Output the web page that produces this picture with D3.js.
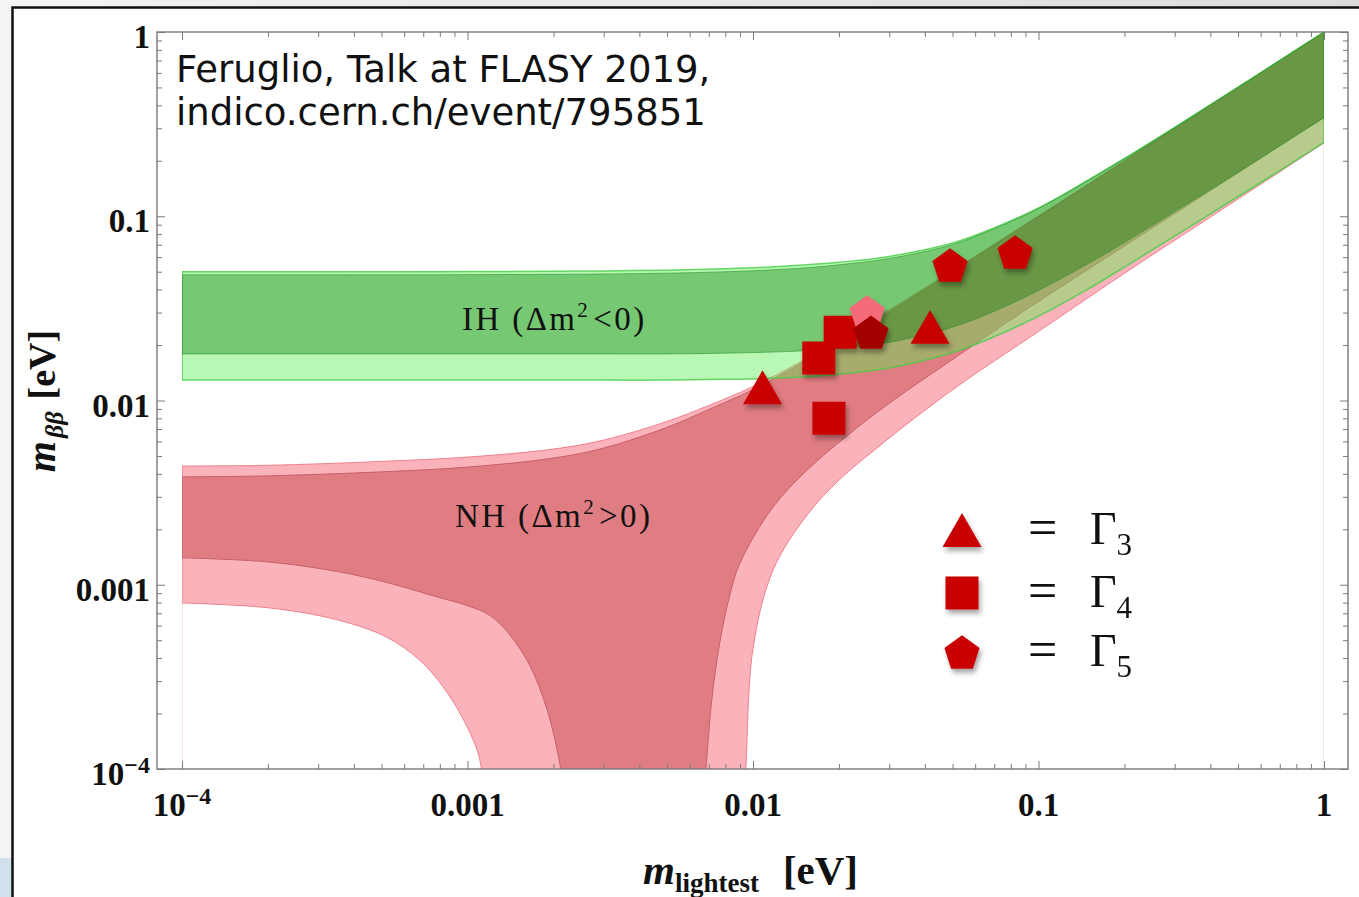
<!DOCTYPE html>
<html lang="en">
<head>
<meta charset="UTF-8">
<title>m_bb vs m_lightest</title>
<style>
  body { margin: 0; background: #fff; }
  svg text { font-family: "Liberation Serif", "Times New Roman", serif; fill: #111; }
  .tick line { stroke: #7a7a7a; stroke-width: 1; }
  .tick text { display: none; }
</style>
</head>
<body>
<svg id="chart" width="1359" height="897"></svg>

<script src="https://cdnjs.cloudflare.com/ajax/libs/d3/7.8.5/d3.min.js"></script>
<script>
// ---- data (eV) ----
// common x grid for the upper edges and the IH bands
const gridX = [1e-4, 2e-4, 5e-4, 1e-3, 2e-3, 3e-3, 5e-3, 7e-3, 0.01, 0.015, 0.02, 0.03,
               0.05, 0.07, 0.1, 0.15, 0.2, 0.3, 0.5, 0.7, 1];

// inverted hierarchy, outer (light) and inner (dark) band
const ihUpper3 = [0.0500, 0.0500, 0.0500, 0.0501, 0.0503, 0.0505, 0.0510, 0.0516, 0.0525, 0.0543, 0.0562, 0.0605,
                  0.0715, 0.0865, 0.111, 0.158, 0.206, 0.304, 0.502, 0.701, 1.0];
const ihLower3 = [0.0129, 0.0129, 0.0129, 0.0129, 0.0129, 0.0129, 0.0129, 0.0130, 0.0131, 0.0134, 0.0139, 0.0150,
                  0.0182, 0.0222, 0.0287, 0.0405, 0.053, 0.078, 0.128, 0.177, 0.252];
const ihUpper1 = [0.0481, 0.0481, 0.0481, 0.0482, 0.0484, 0.0486, 0.0491, 0.0497, 0.0506, 0.0524, 0.0545, 0.0590,
                  0.0702, 0.0855, 0.110, 0.157, 0.205, 0.303, 0.501, 0.700, 0.998];
const ihLower1 = [0.0179, 0.0179, 0.0179, 0.0179, 0.0179, 0.0179, 0.0179, 0.0180, 0.0182, 0.0186, 0.0192, 0.0207,
                  0.0250, 0.0305, 0.0395, 0.0555, 0.0720, 0.106, 0.173, 0.241, 0.342];

// normal hierarchy, upper edges on gridX
const nhUpper3 = [0.00441, 0.00445, 0.00467, 0.00493, 0.00545, 0.0061, 0.0077, 0.0094, 0.0119, 0.0165, 0.0214, 0.031,
                  0.0507, 0.0705, 0.1004, 0.150, 0.200, 0.300, 0.500, 0.700, 1.0];
const nhUpper1 = [0.00385, 0.00390, 0.00410, 0.00435, 0.00487, 0.00552, 0.00715, 0.00894, 0.01146, 0.0161, 0.0210, 0.0302,
                  0.0500, 0.0698, 0.0996, 0.1490, 0.1990, 0.2990, 0.4990, 0.6990, 0.998];

// normal hierarchy lower edges: left branch (falls to zero) and right branch (rises again)
const nhLow3LeftX = [1e-4, 2e-4, 3.5e-4, 5.2e-4, 6.8e-4, 8.2e-4, 9.6e-4, 1.08e-3, 1.12e-3, 1.15e-3];
const nhLow3LeftY = [7.96e-4, 7.5e-4, 6.45e-4, 5.2e-4, 3.9e-4, 2.8e-4, 1.9e-4, 1.27e-4, 1.0e-4, 7e-5];
const nhLow1LeftX = [1e-4, 2e-4, 3.5e-4, 5.2e-4, 7.8e-4, 1.0e-3, 1.2e-3, 1.4e-3, 1.66e-3, 1.9e-3, 2.06e-3, 2.12e-3, 2.16e-3];
const nhLow1LeftY = [1.40e-3, 1.33e-3, 1.18e-3, 1.03e-3, 8.6e-4, 7.7e-4, 6.8e-4, 5.4e-4, 3.6e-4, 2.1e-4, 1.27e-4, 1.0e-4, 7e-5];
const nhLow1RightX = [6.7e-3, 6.84e-3, 7.18e-3, 7.66e-3, 8.3e-3, 9.0e-3, 0.01175, 0.0155, 0.0202, 0.0263, 0.0346, 0.0452,
                      0.0676, 0.1, 0.2, 0.5, 1];
const nhLow1RightY = [7e-5, 1e-4, 2.4e-4, 4.9e-4, 8.8e-4, 1.31e-3, 2.64e-3, 4.2e-3, 6.0e-3, 8.3e-3, 0.0113, 0.0150,
                      0.0230, 0.0345, 0.069, 0.172, 0.345];
const nhLow3RightX = [9.3e-3, 9.44e-3, 0.0100, 0.01175, 0.0155, 0.0202, 0.0263, 0.0346, 0.0452, 0.059, 0.0676, 0.1, 0.2, 0.5, 1];
const nhLow3RightY = [7e-5, 1e-4, 4.5e-4, 1.2e-3, 2.4e-3, 3.75e-3, 5.3e-3, 7.45e-3, 0.0102, 0.0137, 0.0158, 0.0237, 0.049, 0.124, 0.25];

// model points
const gamma3X = [0.0108, 0.0417];
const gamma3Y = [0.0118, 0.0251];
const gamma4X = [0.0202, 0.0170, 0.01845];
const gamma4Y = [0.0235, 0.0170, 0.0080];
const gamma5X = [0.0251, 0.0490, 0.0828, 0.0259];
const gamma5Y = [0.0302, 0.0544, 0.0640, 0.0235];
const gamma5Col = ['#f46a78', '#c80000', '#c80000', '#a30000'];

// ticks
const majorTicks = [1e-4, 1e-3, 1e-2, 0.1, 1];
const majorLabels = [['10', '\u22124'], '0.001', '0.01', '0.1', '1'];
const legendNames = ['3', '4', '5'];

// ---- layout ----
const svg = d3.select('#chart');
const frame = { left: 157, right: 1348, top: 32, bottom: 769 };
const x = d3.scaleLog().domain([1e-4, 1]).range([182, 1324]);
const y = d3.scaleLog().domain([1e-4, 1]).range([769, 32]);

const defs = svg.append('defs');
defs.append('clipPath').attr('id', 'plotclip')
    .append('rect')
    .attr('x', x(1e-4)).attr('y', frame.top)
    .attr('width', x(1) - x(1e-4)).attr('height', frame.bottom - frame.top);
defs.append('filter').attr('id', 'shadow')
    .attr('x', '-50%').attr('y', '-50%').attr('width', '200%').attr('height', '200%')
    .append('feDropShadow')
    .attr('dx', 2).attr('dy', 4).attr('stdDeviation', 2.5)
    .attr('flood-color', '#000').attr('flood-opacity', 0.35);
const grad = defs.append('linearGradient').attr('id', 'slidebg').attr('x1', 0).attr('y1', 0).attr('x2', 1).attr('y2', 0);
grad.append('stop').attr('offset', 0).attr('stop-color', '#f4f4f4');
grad.append('stop').attr('offset', 1).attr('stop-color', '#dcdcdc');

// slide background and black picture border
svg.append('rect').attr('width', 1359).attr('height', 897).attr('fill', 'url(#slidebg)');
svg.append('rect').attr('x', 0).attr('y', 858).attr('width', 12).attr('height', 39).attr('fill', '#cfe1ea');
svg.append('rect')
    .attr('x', 12.5).attr('y', 7.5).attr('width', 1400).attr('height', 950)
    .attr('fill', '#fff').attr('stroke', '#111').attr('stroke-width', 2.5);

// ---- bands ----
const pts = (xs, ys) => xs.map((v, i) => [v, ys[i]]);
const curve = d3.line()
    .x(d => x(d[0]))
    .y(d => y(d[1]))
    .curve(d3.curveCatmullRom.alpha(0.5));

function bandPath(upper, lowerPieces) {
    let p = curve(upper);
    lowerPieces.forEach(piece => {
        p += curve(piece.slice().reverse()).replace(/^M/, 'L');
    });
    return p + 'Z';
}

const plot = svg.append('g').attr('clip-path', 'url(#plotclip)');

// faint frame lines of the filling at the ends of the x range
plot.append('line')
    .attr('x1', x(1e-4)).attr('x2', x(1e-4)).attr('y1', y(nhLow3LeftY[0])).attr('y2', frame.bottom)
    .attr('stroke', '#f2d6da').attr('stroke-width', 1.2);
plot.append('line')
    .attr('x1', x(1)).attr('x2', x(1)).attr('y1', y(nhLow3RightY[nhLow3RightY.length - 1])).attr('y2', frame.bottom)
    .attr('stroke', '#f2d6da').attr('stroke-width', 1.2);

plot.append('path')
    .attr('d', bandPath(pts(gridX, nhUpper3), [pts(nhLow3RightX, nhLow3RightY), pts(nhLow3LeftX, nhLow3LeftY)]))
    .attr('fill', '#fbb3bb').attr('stroke', '#f07f8d').attr('stroke-width', 1);
plot.append('path')
    .attr('d', bandPath(pts(gridX, nhUpper1), [pts(nhLow1RightX, nhLow1RightY), pts(nhLow1LeftX, nhLow1LeftY)]))
    .attr('fill', '#e07d82').attr('stroke', '#c85f69').attr('stroke-width', 1);

plot.append('path')
    .attr('d', bandPath(pts(gridX, ihUpper3), [pts(gridX, ihLower3)]))
    .attr('fill', 'rgb(88,236,79)').attr('fill-opacity', 0.42)
    .attr('stroke', 'rgb(70,205,70)').attr('stroke-width', 1.5).attr('stroke-opacity', 0.8);
plot.append('path')
    .attr('d', bandPath(pts(gridX, ihUpper1), [pts(gridX, ihLower1)]))
    .attr('fill', 'rgb(0,117,0)').attr('fill-opacity', 0.36)
    .attr('stroke', 'rgb(40,150,40)').attr('stroke-width', 1).attr('stroke-opacity', 0.6);

// ---- frame and ticks ----
const isMajor = t => Math.abs(Math.log10(t) - Math.round(Math.log10(t))) < 1e-6;
const minorTicks = x.ticks().filter(t => !isMajor(t));
const yMinorTicks = y.ticks().filter(t => !isMajor(t));

function ticks(axisFn, scale, values, len, tx, ty) {
    const g = svg.append('g')
        .attr('transform', `translate(${tx},${ty})`)
        .call(axisFn(scale).tickValues(values).tickSize(-len).tickFormat(''));
    g.select('.domain').remove();
}
[[minorTicks, 5], [majorTicks, 8]].forEach(([vals, len]) => {
    ticks(d3.axisBottom, x, vals, len, 0, frame.bottom);
    ticks(d3.axisTop, x, vals, len, 0, frame.top);
});
[[yMinorTicks, 5], [majorTicks, 8]].forEach(([vals, len]) => {
    ticks(d3.axisLeft, y, vals, len, frame.left, 0);
    ticks(d3.axisRight, y, vals, len, frame.right, 0);
});

svg.append('rect')
    .attr('x', frame.left).attr('y', frame.top)
    .attr('width', frame.right - frame.left).attr('height', frame.bottom - frame.top)
    .attr('fill', 'none').attr('stroke', '#7a7a7a').attr('stroke-width', 1.4);

function tickLabel(t, label) {
    if (Array.isArray(label)) {
        t.append('tspan').text(label[0]);
        t.append('tspan').attr('dy', -12).attr('font-size', 24).text(label[1]);
    } else {
        t.text(label);
    }
}
majorTicks.forEach((v, i) => {
    const tx = svg.append('text')
        .attr('x', x(v)).attr('y', 816)
        .attr('text-anchor', 'middle')
        .attr('font-size', 33).attr('font-weight', 'bold');
    tickLabel(tx, majorLabels[i]);
    const ty = svg.append('text')
        .attr('x', 150).attr('y', y(v) + 16)
        .attr('text-anchor', 'end')
        .attr('font-size', 33).attr('font-weight', 'bold');
    tickLabel(ty, majorLabels[i]);
});

// axis titles
const xt = svg.append('text').attr('x', 643).attr('y', 884).attr('font-weight', 'bold');
xt.append('tspan').attr('font-size', 41).attr('font-style', 'italic').text('m');
xt.append('tspan').attr('font-size', 27).attr('dy', 8).text('lightest');
xt.append('tspan').attr('font-size', 41).attr('dy', -8).attr('dx', 24).text('[eV]');

const yt = svg.append('text')
    .attr('transform', 'translate(55,401) rotate(-90)')
    .attr('text-anchor', 'middle').attr('font-weight', 'bold');
yt.append('tspan').attr('font-size', 40).attr('font-style', 'italic').text('m');
yt.append('tspan').attr('font-size', 26).attr('font-style', 'italic').attr('dy', 8).attr('dx', 3).text('\u03b2\u03b2');
yt.append('tspan').attr('font-size', 38).attr('dy', -8).attr('dx', 12).text('[eV]');

// band labels
function bandLabel(xp, yp, head, tail) {
    const t = svg.append('text').attr('x', xp).attr('y', yp)
        .attr('font-size', 33).attr('letter-spacing', 2.4);
    t.append('tspan').text(head);
    t.append('tspan').attr('font-size', 21).attr('dy', -13).text('2');
    t.append('tspan').attr('dy', 13).attr('dx', 3).text(tail);
}
bandLabel(462, 330, 'IH (\u0394m', '<0)');
bandLabel(455, 527, 'NH (\u0394m', '>0)');

// source note
['Feruglio, Talk at FLASY 2019,', 'indico.cern.ch/event/795851'].forEach((s, i) => {
    svg.append('text').attr('x', 176).attr('y', 82 + i * 43).attr('font-size', 37)
        .style('font-family', '"DejaVu Sans", sans-serif').text(s);
});

// ---- markers ----
const symTriangle = {
    draw(ctx, size) {
        const s = Math.sqrt(size);
        ctx.moveTo(0, -s * 0.87);
        ctx.lineTo(s, s * 0.87);
        ctx.lineTo(-s, s * 0.87);
        ctx.closePath();
    }
};
const symPentagon = {
    draw(ctx, size) {
        const r = Math.sqrt(size);
        for (let i = 0; i < 5; i++) {
            const a = -Math.PI / 2 + i * 2 * Math.PI / 5;
            const px = r * Math.cos(a), py = r * Math.sin(a) + r * 0.095;
            if (i) ctx.lineTo(px, py); else ctx.moveTo(px, py);
        }
        ctx.closePath();
    }
};
const triPath = d3.symbol().type(symTriangle).size(19.5 * 19.5)();
const sqPath = d3.symbol().type(d3.symbolSquare).size(33 * 33)();
const pentPath = d3.symbol().type(symPentagon).size(18.5 * 18.5)();

const marks = svg.append('g').attr('filter', 'url(#shadow)');
function drawMarks(path, xs, ys, cols) {
    xs.forEach((v, i) => {
        marks.append('path')
            .attr('d', path)
            .attr('transform', `translate(${x(v)},${y(ys[i])})`)
            .attr('fill', cols ? cols[i] : '#c80000');
    });
}
drawMarks(triPath, gamma3X, gamma3Y);
drawMarks(sqPath, gamma4X, gamma4Y);
drawMarks(pentPath, gamma5X, gamma5Y, gamma5Col);

// ---- legend ----
const legendShapes = [triPath, sqPath, pentPath];
const legendRowY = [530, 593, 652];
legendShapes.forEach((p, i) => {
    const ry = legendRowY[i];
    marks.append('path').attr('d', p)
        .attr('transform', `translate(962,${ry})`)
        .attr('fill', '#c80000');
    svg.append('text').attr('x', 1028).attr('y', ry + 15)
        .attr('font-size', 52).text('=');
    const g = svg.append('text').attr('x', 1090).attr('y', ry + 14).attr('font-size', 46);
    g.append('tspan').text('\u0393');
    g.append('tspan').attr('font-size', 31).attr('dy', 11).text(legendNames[i]);
});
</script>
</body>
</html>
